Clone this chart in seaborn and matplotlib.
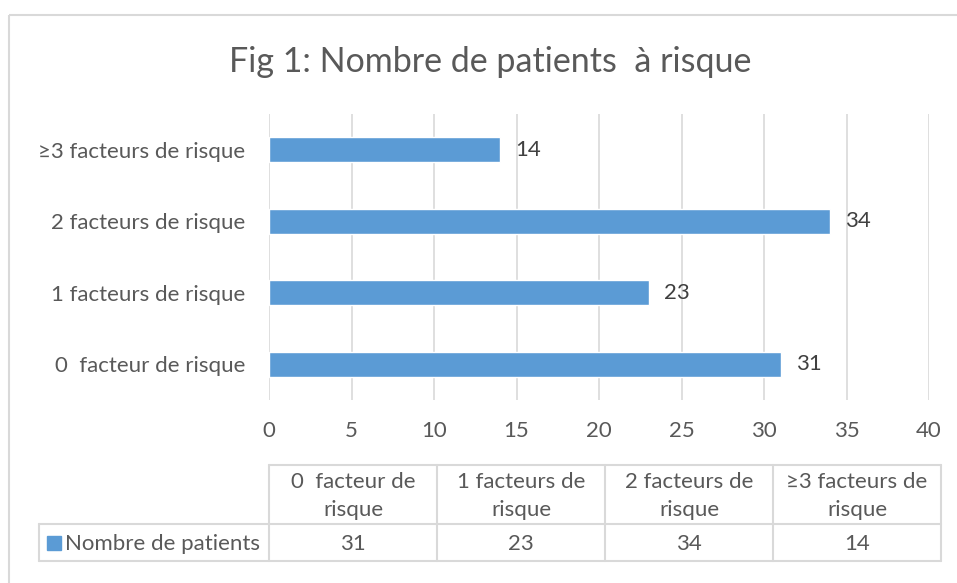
import matplotlib
matplotlib.use("Agg")
import matplotlib.pyplot as plt
from matplotlib.patches import Rectangle
from matplotlib.lines import Line2D
import seaborn as sns
import pandas as pd

# -----------------------------
# Data
# -----------------------------

categories = ["0  facteur de risque", "1 facteurs de risque",
              "2 facteurs de risque", "≥3 facteurs de risque"]
table_headers = ["0  facteur de\nrisque", "1 facteurs de\nrisque",
                 "2 facteurs de\nrisque", "≥3 facteurs de\nrisque"]
patients = [31, 23, 34, 14]
series_name = "Nombre de patients"
title = "Fig 1: Nombre de patients  à risque"
x_ticks = [0, 5, 10, 15, 20, 25, 30, 35, 40]

df = pd.DataFrame({"categorie": categories, "patients": patients})

# -----------------------------
# Style
# -----------------------------

sns.set_style("white")
plt.rcParams["font.family"] = ["Lato", "DejaVu Sans"]

BLUE = "#5b9bd5"
TEXT = "#595959"
GRID = "#d9d9d9"
FS = 16

W, H = 957, 583
fig = plt.figure(figsize=(W / 100, H / 100), dpi=100)


def px(x, y):
    # pixel position -> figure fraction
    return x / W, 1 - y / H


# chart frame
fig.add_artist(Rectangle(px(9, 15), 2, -2, transform=fig.transFigure,
                         fill=False, edgecolor=GRID, linewidth=1.5))

# -----------------------------
# Bar chart
# -----------------------------

ax = fig.add_axes([269 / W, 1 - 400 / H, 660 / W, 286 / H])

order = categories[::-1]  # top row first
sns.barplot(data=df, x="patients", y="categorie", order=order,
            color=BLUE, width=0.35, saturation=1, ax=ax, zorder=3)

ax.set_xlim(0, 40)
ax.set_xticks(x_ticks)
ax.grid(axis="x", color=GRID, linewidth=1.2, zorder=0)
ax.set_xlabel("")
ax.set_ylabel("")
for s in ax.spines.values():
    s.set_visible(False)
ax.tick_params(axis="both", length=0, labelsize=FS, labelcolor=TEXT)
ax.tick_params(axis="x", pad=15)
ax.tick_params(axis="y", pad=17)
for lbl in ax.get_yticklabels():
    lbl.set_y(lbl.get_position()[1])

for bars in ax.containers:
    ax.bar_label(bars, padding=11, fontsize=FS, color="#404040")

fig.text(*px(490, 62), title, ha="center", va="center",
         fontsize=24.5, color=TEXT)

# -----------------------------
# Data table
# -----------------------------

col_left = 269
col_w = 168
top, mid, bottom = 465, 524, 561
n = len(categories)


def line(x0, y0, x1, y1):
    (a, b), (c, d) = px(x0, y0), px(x1, y1)
    fig.add_artist(Line2D([a, c], [b, d], transform=fig.transFigure,
                          color=GRID, linewidth=1.5))


line(col_left, top, col_left + n * col_w, top)
line(39, mid, col_left + n * col_w, mid)
line(39, bottom, col_left + n * col_w, bottom)
line(39, mid, 39, bottom)
for i in range(n + 1):
    line(col_left + i * col_w, top, col_left + i * col_w, bottom)

for i in range(n):
    cx = col_left + (i + 0.5) * col_w
    fig.text(*px(cx, (top + mid) / 2 + 1), table_headers[i], ha="center",
             va="center", fontsize=FS, color=TEXT, linespacing=1.5)
    fig.text(*px(cx, (mid + bottom) / 2 + 1), str(patients[i]), ha="center",
             va="center", fontsize=FS, color=TEXT)

fig.add_artist(Rectangle(px(47, 550), 14 / W, 14 / H,
                         transform=fig.transFigure, color=BLUE))
fig.text(*px(65, (mid + bottom) / 2 + 1), series_name, ha="left",
         va="center", fontsize=FS, color=TEXT)

plt.savefig("out.png", dpi=100)
